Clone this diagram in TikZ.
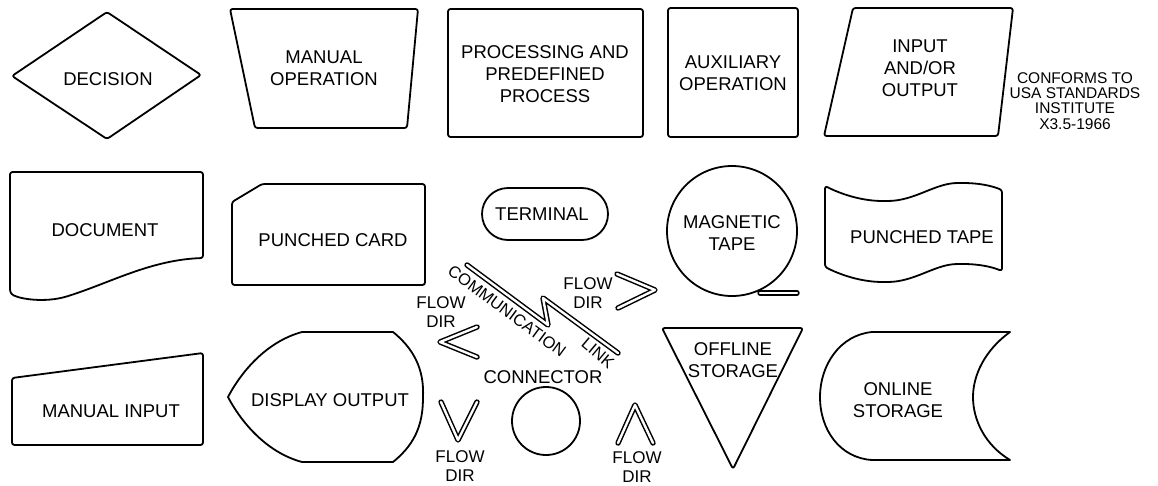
\documentclass[tikz,border=0pt]{standalone}
\usepackage{fontspec}
\setmainfont{Liberation Sans}
\begin{document}
\begin{tikzpicture}[x=1pt,y=-1pt,
  shp/.style={draw=black, line width=1.8pt, line join=round, rounded corners=2.5pt},
  lbl/.style={font=\fontsize{18.5}{22}\selectfont, align=center, inner sep=0pt},
  small/.style={font=\fontsize{17}{19}\selectfont, align=center, inner sep=0pt},
  rot/.style={font=\fontsize{16.5}{19}\selectfont, inner sep=0pt},
  note/.style={font=\fontsize{15.5}{15.2}\selectfont, align=center, inner sep=0pt},
  flowsym/.style={draw=black, double=white, double distance=2.4pt, line width=1.5pt, line cap=round, line join=round}]
\useasboundingbox (0,0) rectangle (1158,485);

% ---------- row 1 ----------
\draw[shp] (12,76) -- (107,12) -- (201,75) -- (107,139) -- cycle;
\node[lbl] (decision) at (108,79) {DECISION};

\draw[shp] (230,9) -- (418,9) -- (407,128) -- (255,128) -- cycle;
\node[lbl] (manop) at (324,68) {MANUAL\\OPERATION};

\draw[shp] (448,9) rectangle (643,137);
\node[lbl] (proc) at (545,74) {PROCESSING AND\\PREDEFINED\\PROCESS};

\draw[shp] (668,8) rectangle (798,137);
\node[lbl] (aux) at (733,73) {AUXILIARY\\OPERATION};

\draw[shp] (853,8) -- (1013,8) -- (998,136) -- (824,136) -- cycle;
\node[lbl] (io) at (920,68) {INPUT\\AND/OR\\OUTPUT};

\node[note] (conf) at (1075,101) {CONFORMS TO\\USA STANDARDS\\INSTITUTE\\X3.5-1966};

% ---------- row 2 ----------
\draw[shp] (10,172) -- (203,172) -- (203,258)
  .. controls (150,260) and (110,283) .. (65,297)
  .. controls (40,303) and (15,298) .. (10,292) -- cycle;
\node[lbl] (doc) at (105,230) {DOCUMENT};

\draw[shp] (232,202) -- (262,184) -- (425,184) -- (425,285) -- (232,285) -- cycle;
\node[lbl] (card) at (333,240) {PUNCHED CARD};

\draw[shp, rounded corners=26pt] (482,188) rectangle (608,240);
\node[lbl] (term) at (542,214) {TERMINAL};

\draw[shp] (732,231) circle[radius=65];
\draw[flowsym] (760,293) -- (797,293);
\node[lbl] (mag) at (732,233) {MAGNETIC\\TAPE};

\draw[shp] (825,186) .. controls (845,196) and (865,201) .. (885,201)
  .. controls (915,201) and (935,183) .. (960,183)
  .. controls (980,183) and (992,186) .. (1002,190)
  -- (1002,271)
  .. controls (992,267) and (980,264) .. (960,264)
  .. controls (935,264) and (915,282) .. (885,282)
  .. controls (865,282) and (845,277) .. (825,267) -- cycle;
\node[lbl] (ptape) at (922,237) {PUNCHED TAPE};

% communication link and flow directions
\draw[flowsym] (467,265) -- (548,325) -- (543,298) -- (618,353);
\node[rot, rotate=-36.5] (comm) at (507,311) {COMMUNICATION};
\node[rot, rotate=-40] (link) at (598,353) {LINK};

\draw[flowsym] (477,327) -- (440,342) -- (477,357);
\node[small] (fdl) at (441,312) {FLOW\\DIR};
\draw[flowsym] (617,274) -- (655,290) -- (618,308);
\node[small] (fdr) at (588,293) {FLOW\\DIR};
\draw[flowsym] (441,402) -- (458,440) -- (477,402);
\node[small] (fdd) at (460,466) {FLOW\\DIR};
\draw[flowsym] (618,443) -- (635,405) -- (653,443);
\node[small] (fdu) at (637,467) {FLOW\\DIR};

% ---------- row 3 ----------
\draw[shp] (12,378) -- (203,353) -- (203,445) -- (12,445) -- cycle;
\node[lbl] (manin) at (111,411) {MANUAL INPUT};

\draw[shp, sharp corners] (302,332) -- (393,332)
  .. controls (418,352) and (424,375) .. (423,397)
  .. controls (423,420) and (418,442) .. (393,462)
  -- (302,462)
  .. controls (265,452) and (240,420) .. (228,397)
  .. controls (240,374) and (265,342) .. cycle;
\node[lbl] (disp) at (330,400) {DISPLAY OUTPUT};

\node[lbl] (conn) at (543,377) {CONNECTOR};
\draw[shp] (546,421) circle[radius=34];

\draw[shp] (662,328) -- (803,328) -- (733,469) -- cycle;
\node[lbl] (off) at (733,360) {OFFLINE\\STORAGE};

\draw[shp, sharp corners] (872,332) -- (1010,332)
  .. controls (985,350) and (973,375) .. (973,397)
  .. controls (973,420) and (985,445) .. (1010,460)
  -- (872,460)
  .. controls (840,458) and (820,430) .. (820,397)
  .. controls (820,365) and (840,335) .. cycle;
\node[lbl] (online) at (898,400) {ONLINE\\STORAGE};
\end{tikzpicture}
\end{document}
